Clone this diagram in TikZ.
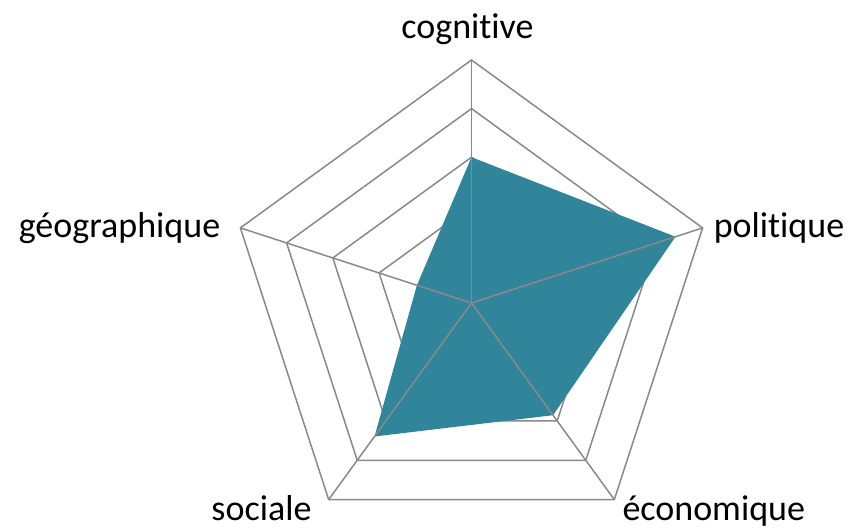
\documentclass[tikz,border=0pt]{standalone}
\usepackage{fontspec}
\setmainfont{Carlito}[Ligatures={NoCommon}]
\usetikzlibrary{positioning}
\definecolor{radarfill}{RGB}{49,133,155}
\definecolor{gridgray}{RGB}{137,137,137}

\begin{document}
\begin{tikzpicture}[x=1pt,y=1pt,
			grid/.style={draw=gridgray,line width=1.5pt,line join=miter},
			axislbl/.style={font=\fontsize{36}{40}\selectfont,inner sep=0pt}
		]
		\useasboundingbox (-471.5,-225) rectangle (377.5,303);
		\coordinate (o) at (0,0);
		% axes: 1 cognitive, 2 politique, 3 economique, 4 sociale, 5 geographique
		\foreach \n/\a in {1/90,2/18,3/-54,4/-126,5/162}
			\coordinate (v\n) at (\a:243);
		% rings
		\foreach \k in {1,...,5}
			\draw[grid] (90:\k*48.6) -- (18:\k*48.6) -- (-54:\k*48.6) -- (-126:\k*48.6) -- (162:\k*48.6) -- cycle;
		% values
		\fill[radarfill] (90:145.8) -- (18:214.5) -- (-54:138.7) -- (-126:165) -- (162:57.4) -- cycle;
		\foreach \n in {1,...,5}
			\draw[grid] (o) -- (v\n);
		% labels
		\node[axislbl,above=15pt of v1,xshift=-4pt] (cog) {cognitive};
		\node[axislbl,right=11pt of v2] (pol) {politique};
		\node[axislbl,left=20pt of v5] (geo) {géographique};
		\node[axislbl,anchor=base east] (soc) at ([shift={(-17pt,-21pt)}]v4) {sociale};
		\node[axislbl,anchor=base west] (eco) at ([shift={(8pt,-21pt)}]v3) {économique};
	\end{tikzpicture}
\end{document}
